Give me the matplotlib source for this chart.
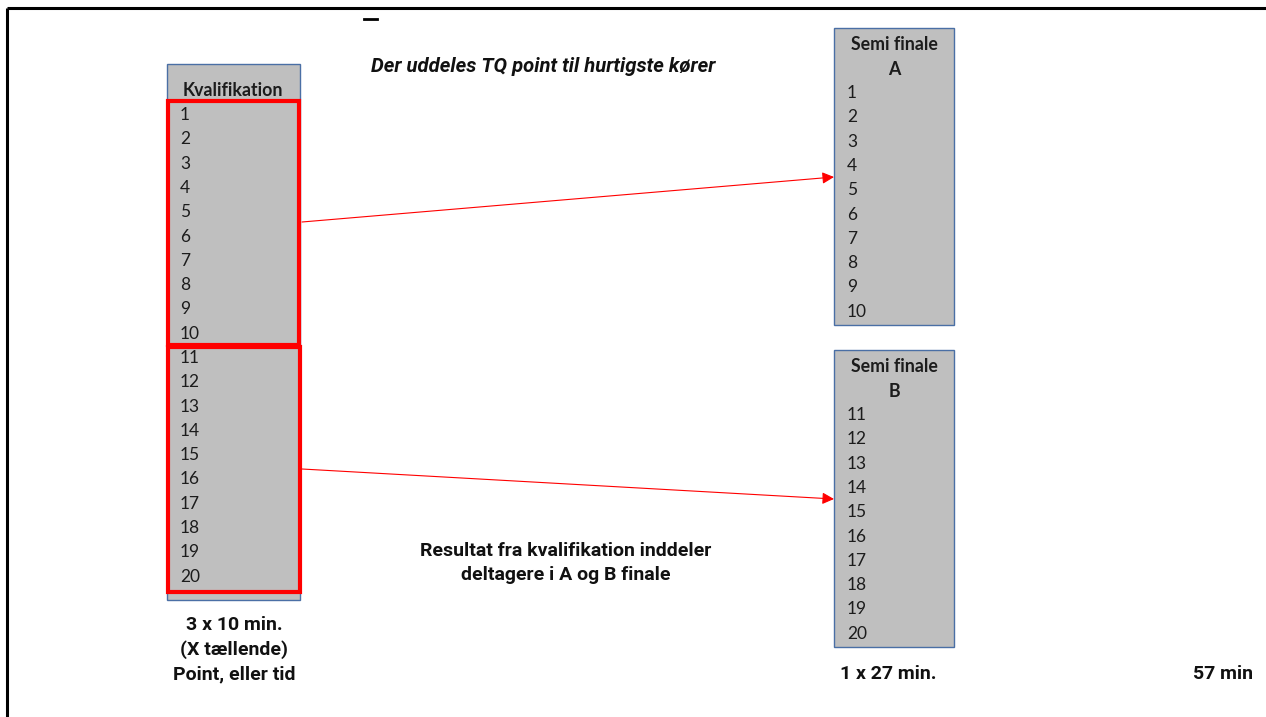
import matplotlib
matplotlib.use("Agg")
import matplotlib.pyplot as plt
from matplotlib.patches import Rectangle, FancyArrowPatch

# data
qual_header = "Kvalifikation"
qual_ranks = [1, 2, 3, 4, 5, 6, 7, 8, 9, 10, 11, 12, 13, 14, 15, 16, 17, 18, 19, 20]
semi_a_header = ["Semi finale", "A"]
semi_a_ranks = [1, 2, 3, 4, 5, 6, 7, 8, 9, 10]
semi_b_header = ["Semi finale", "B"]
semi_b_ranks = [11, 12, 13, 14, 15, 16, 17, 18, 19, 20]
qual_note = ["3 x 10 min.", "(X tællende)", "Point, eller tid"]
semi_note = "1 x 27 min."
total_note = "57 min"
top_text = "Der uddeles TQ point til hurtigste kører"
mid_text = ["Resultat fra kvalifikation inddeler", "deltagere i A og B finale"]

W, H = 1266, 717
fig = plt.figure(figsize=(W / 100, H / 100), dpi=100)
ax = fig.add_axes([0, 0, 1, 1])
ax.set_xlim(0, W)
ax.set_ylim(H, 0)
ax.axis("off")

GRAY = "#bfbfbf"
EDGE = "#4a6fa5"
TXT = "#1c1c1c"
num_font = dict(family=["Lato", "DejaVu Sans"], fontsize=12.5, color=TXT)
head_font = dict(family=["Lato", "DejaVu Sans"], fontsize=12.8, fontweight="bold", color=TXT)
bold_font = dict(family=["Roboto", "DejaVu Sans"], fontsize=14, fontweight="bold", color="#111111")
step = 24.3

# page frame (top and left)
ax.plot([7, W], [8, 8], color="black", lw=2.2, solid_capstyle="butt")
ax.plot([7, 7], [8, H], color="black", lw=2.2, solid_capstyle="butt")
ax.plot([364, 377], [19, 19], color="black", lw=2)

# qualification column
ax.add_patch(Rectangle((167, 64), 133, 536, facecolor=GRAY, edgecolor=EDGE, lw=1))
ax.text(233, 91, qual_header, ha="center", va="center", **head_font)
for i, r in enumerate(qual_ranks):
    ax.text(180, 115 + i * step, str(r), ha="left", va="center", **num_font)
ax.add_patch(Rectangle((168, 101), 131, 244, facecolor="none", edgecolor="#ff0000", lw=3))
ax.add_patch(Rectangle((168, 347), 132, 245, facecolor="none", edgecolor="#ff0000", lw=3))

# semi final columns
for top, header, ranks in [(28, semi_a_header, semi_a_ranks), (350, semi_b_header, semi_b_ranks)]:
    ax.add_patch(Rectangle((834, top), 120, 297, facecolor=GRAY, edgecolor=EDGE, lw=1))
    for j, line in enumerate(header):
        ax.text(894, top + 17 + j * step, line, ha="center", va="center", **head_font)
    for i, r in enumerate(ranks):
        ax.text(847, top + 65 + i * step, str(r), ha="left", va="center", **num_font)

# arrows
for start, end in [((302, 222), (834, 177)), ((302, 469), (834, 499))]:
    ax.add_patch(FancyArrowPatch(start, end, arrowstyle="-|>,head_length=7,head_width=3.5",
                                 color="#ff0000", lw=0.8, mutation_scale=1, shrinkA=0, shrinkB=0))

# texts
ax.text(543, 66, top_text, ha="center", va="center", fontstyle="italic",
        **{**bold_font, "fontsize": 14.6})
for j, line in enumerate(mid_text):
    ax.text(566, 551 + j * 24, line, ha="center", va="center", **bold_font)
for j, line in enumerate(qual_note):
    ax.text(234, 625 + j * 24.5, line, ha="center", va="center", **bold_font)
ax.text(888, 674, semi_note, ha="center", va="center", **bold_font)
ax.text(1193, 674, total_note, ha="left", va="center", **bold_font)

fig.savefig("out.png", dpi=100, facecolor="white")
